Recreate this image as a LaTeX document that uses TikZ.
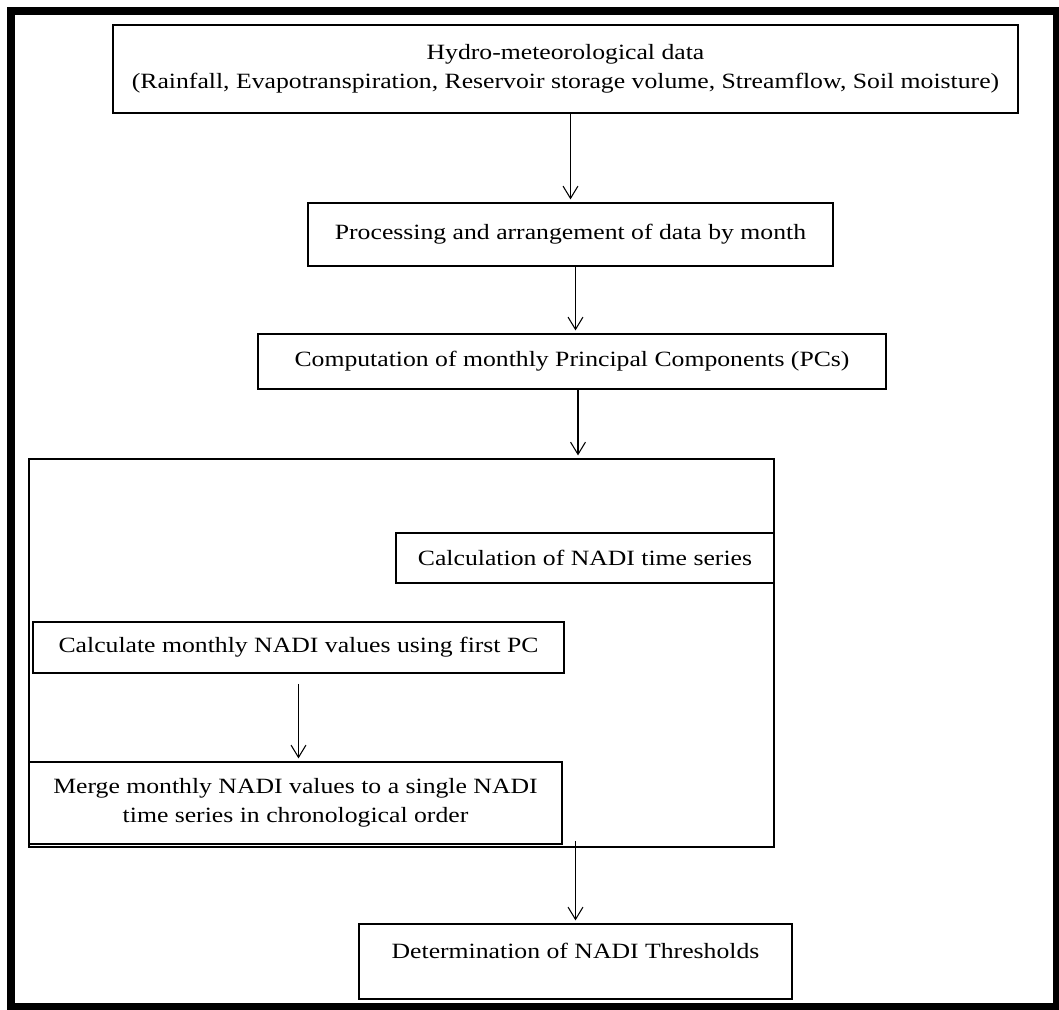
\documentclass[tikz,border=0pt]{standalone}
\usepackage{fontspec}
\setmainfont{Liberation Serif}[FakeStretch=1.18]
\usepackage{tikz}
\usetikzlibrary{arrows.meta,positioning}
\tikzstyle{arrow} = [line width=0.6pt,-{Straight Barb[length=7pt,width=8.5pt]},shorten >=1.5pt]
\tikzstyle{stepbox} = [rectangle, draw, line width=1.1pt, inner sep=0pt, text centered, font=\fontsize{12.4}{16.5}\selectfont]
\tikzstyle{panel} = [rectangle, draw, line width=1.1pt]

\begin{document}
\begin{tikzpicture}
    \useasboundingbox (0,0) rectangle (21.18,-20.2);
    % page frame
    \draw[line width=4pt] (0.22,-0.22) rectangle (21.14,-20.14);

    % Data and PCs
    \node[stepbox, minimum width=18.1cm, minimum height=1.76cm, align=center] (hydro) at (11.31,-1.38) {Hydro-meteorological data\\(Rainfall, Evapotranspiration, Reservoir storage volume, Streamflow, Soil moisture)};
    \node[stepbox, minimum width=10.5cm, minimum height=1.26cm] (proc) at (11.41,-4.69) {Processing and arrangement of data by month};
    \node[stepbox, minimum width=12.56cm, minimum height=1.1cm] (pcs) at (11.44,-7.23) {Computation of monthly Principal Components (PCs)};

    % NADI time series
    \node[panel, minimum width=14.9cm, minimum height=7.76cm] (series) at (8.03,-13.06) {};
    \node[stepbox, minimum width=7.56cm, minimum height=1cm] (calc) at (11.70,-11.16) {Calculation of NADI time series};
    \node[stepbox, minimum width=10.62cm, minimum height=1.02cm] (monthly) at (5.97,-12.95) {Calculate monthly NADI values using first PC};
    \node[stepbox, minimum width=10.66cm, minimum height=1.64cm, align=center] (merge) at (5.91,-16.06) {Merge monthly NADI values to a single NADI\\time series in chronological order};

    % Thresholds
    \node[stepbox, minimum width=8.66cm, minimum height=1.5cm, text depth=12pt] (thresh) at (11.51,-19.23) {Determination of NADI Thresholds};

    \draw[arrow] (hydro.south -| proc.north) -- (proc.north);
    \draw[arrow] ([xshift=1mm]proc.south) -- ([xshift=1mm]proc.south |- pcs.north);
    \draw[arrow] ([xshift=1.2mm]pcs.south) -- ([xshift=1.2mm]pcs.south |- series.north);
    \draw[arrow, shorten <=0.2cm] (monthly.south) -- (monthly.south |- merge.north);
    \draw[arrow] ([yshift=1.4mm]thresh.north |- series.south) -- (thresh.north);
\end{tikzpicture}
\end{document}
